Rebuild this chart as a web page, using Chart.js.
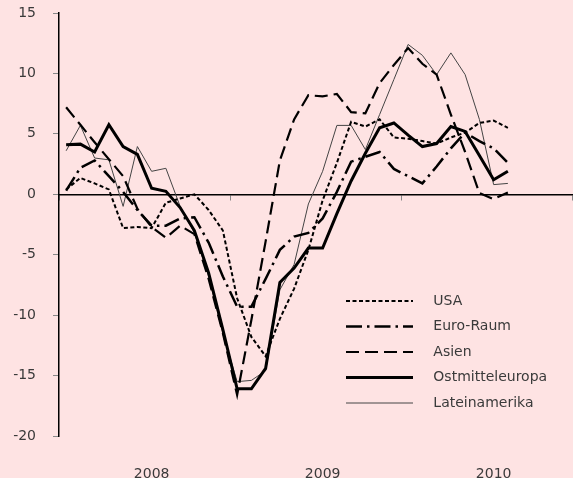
<!DOCTYPE html>
<html>
<head>
<meta charset="utf-8">
<script src="https://cdn.jsdelivr.net/npm/chart.js@4/dist/chart.umd.min.js"></script>
<style>
  html, body { margin: 0; padding: 0; background: #fee3e3; }
  #wrap { width: 573px; height: 478px; }
</style>
</head>
<body>
<div id="wrap"><canvas id="chart" width="573" height="478"></canvas></div>
<script>
// monthly values Jan 2008 .. Aug 2010
const years = ['2008', '2009', '2010'];
const seriesNames = ['USA', 'Euro-Raum', 'Asien', 'Ostmitteleuropa', 'Lateinamerika'];

const usa = [0.4, 1.35, 0.9, 0.4, -2.8, -2.7, -2.8, -0.7, -0.35, 0.0, -1.3, -3.0,
  -8.6, -11.8, -13.4, -10.3, -7.8, -4.6, -0.5, 2.6, 6.0, 5.6, 6.2, 4.7,
  4.6, 4.4, 4.2, 4.7, 5.1, 5.9, 6.1, 5.5];
const euroRaum = [0.3, 2.2, 2.8, 1.5, 0.2, -1.3, -2.6, -2.6, -2.0, -1.9, -4.0, -6.8,
  -9.3, -9.3, -7.0, -4.6, -3.5, -3.2, -2.0, 0.2, 2.7, 3.1, 3.5, 2.1,
  1.5, 0.9, 2.3, 3.8, 5.1, 4.4, 3.8, 2.6];
const asien = [7.2, 5.75, 4.3, 2.9, 1.5, -1.2, -2.7, -3.6, -2.6, -3.3, -7.0, -11.5,
  -16.6, -10.4, -3.9, 2.8, 6.2, 8.2, 8.1, 8.3, 6.8, 6.7, 9.2, 10.7,
  12.1, 10.8, 9.9, 6.6, 3.5, 0.1, -0.4, 0.15];
const ostmitteleuropa = [4.1, 4.15, 3.5, 5.75, 3.95, 3.3, 0.5, 0.25, -1.1, -3.0, -6.5, -11.2,
  -16.1, -16.1, -14.4, -7.3, -6.1, -4.45, -4.45, -1.6, 1.1, 3.4, 5.5, 5.9,
  4.9, 3.95, 4.2, 5.6, 5.2, 3.2, 1.2, 1.9];
const lateinamerika = [3.6, 5.7, 3.0, 2.85, -1.0, 3.95, 1.9, 2.15, -1.0, -3.2, -6.8, -11.5,
  -15.5, -15.4, -14.6, -7.9, -5.8, -0.8, 1.9, 5.7, 5.7, 3.7, 6.6, 9.5,
  12.4, 11.5, 9.9, 11.7, 9.9, 6.2, 0.8, 0.9];

const yTicks = [-20, -15, -10, -5, 0, 5, 10, 15];

// month i sits in the middle of its slot on the 0..36 month axis
const toPoints = (arr) => arr.map((v, i) => ({ x: i + 0.5, y: v }));

const styles = [
  { borderWidth: 2, borderDash: [4, 2.5], borderColor: '#000' },
  { borderWidth: 2.5, borderDash: [16, 5, 2.5, 5], borderColor: '#000' },
  { borderWidth: 2.2, borderDash: [13, 6], borderColor: '#000' },
  { borderWidth: 3, borderDash: [], borderColor: '#000' },
  { borderWidth: 1, borderDash: [], borderColor: '#444' },
];
const values = [usa, euroRaum, asien, ostmitteleuropa, lateinamerika];

Chart.defaults.font.family = "'DejaVu Sans', sans-serif";
Chart.defaults.font.size = 14;
Chart.defaults.color = '#3a3a3a';

// put the legend block inside the plot, lower right
const moveLegend = {
  id: 'moveLegend',
  afterLayout(chart) {
    const lg = chart.legend;
    const pad = lg.options.labels.padding;
    lg.left = 346 - pad;
    lg.top = 294 - pad;
    lg.right = lg.left + lg.width;
    lg.bottom = lg.top + lg.height;
  },
};

/* global Chart */
new Chart(document.getElementById('chart'), {
  type: 'line',
  data: {
    datasets: seriesNames.map((name, k) => ({
      label: name,
      data: toPoints(values[k]),
      ...styles[k],
      backgroundColor: 'transparent',
      pointRadius: 0,
      tension: 0,
      fill: false,
    })),
  },
  options: {
    responsive: false,
    animation: false,
    devicePixelRatio: 1,
    layout: { padding: { top: 13, right: 1, left: 0, bottom: 0 } },
    plugins: {
      tooltip: { enabled: false },
      legend: {
        position: 'chartArea',
        align: 'start',
        labels: {
          usePointStyle: true,
          pointStyle: 'line',
          pointStyleWidth: 67,
          padding: 11.5,
          color: '#3a3a3a',
          generateLabels(chart) {
            return Chart.defaults.plugins.legend.labels.generateLabels(chart)
              .map((it) => {
                const ds = chart.data.datasets[it.datasetIndex];
                return {
                  ...it,
                  text: '   ' + it.text,
                  lineDash: ds.borderDash,
                  lineWidth: ds.borderWidth,
                  strokeStyle: ds.borderColor,
                };
              });
          },
        },
      },
    },
    scales: {
      x: {
        type: 'linear',
        min: 0,
        max: 36,
        grid: { display: false },
        border: { display: false },
        afterBuildTicks: (s) => {
          s.ticks = years.map((y, i) => ({ value: 6.5 + 12 * i }));
        },
        ticks: {
          autoSkip: false,
          maxRotation: 0,
          padding: 22,
          callback: (v, i) => years[i],
        },
        afterFit: (s) => { s.height = 42; s.paddingLeft = 0; s.paddingRight = 0; },
      },
      x2: {
        type: 'linear',
        position: { y: 0 },
        min: 0,
        max: 36,
        ticks: { display: false, stepSize: 12 },
        grid: { drawOnChartArea: false, tickLength: 5, tickColor: '#888' },
        border: { color: '#000', width: 1.5 },
        afterFit: (s) => { s.paddingLeft = 0; s.paddingRight = 0; },
      },
      y: {
        min: -20,
        max: 15,
        afterBuildTicks: (s) => { s.ticks = yTicks.map((v) => ({ value: v })); },
        grid: { drawOnChartArea: false, tickLength: 6, tickColor: '#888' },
        border: { color: '#000', width: 1.5 },
        ticks: { padding: 17 },
        afterFit: (s) => { s.width = 59; s.paddingTop = 0; s.paddingBottom = 0; },
      },
    },
  },
  plugins: [moveLegend],
});
</script>
</body>
</html>
